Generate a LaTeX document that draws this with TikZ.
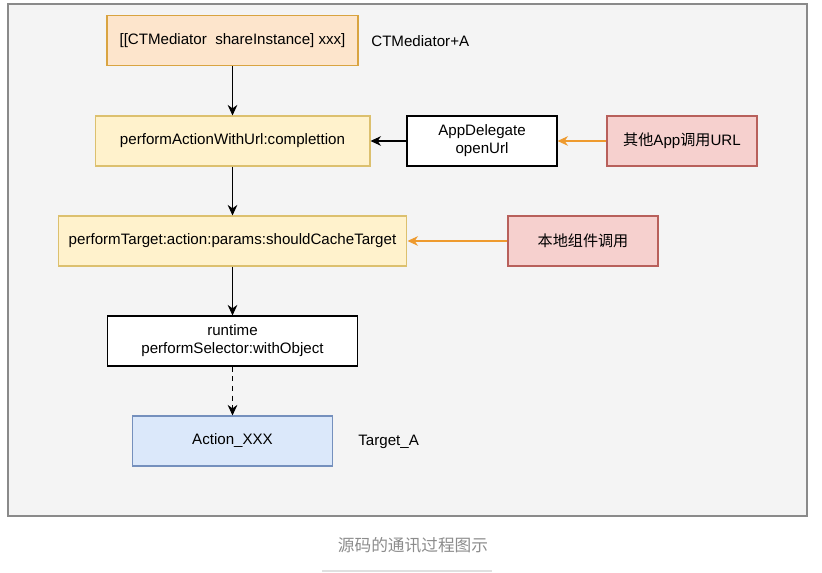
\documentclass[tikz,border=0pt]{standalone}
\usepackage{fontspec}
\setmainfont{Liberation Sans}
\newfontfamily\cjk{Noto Sans CJK SC}
\usetikzlibrary{arrows.meta}
\definecolor{framefill}{HTML}{F4F4F4}
\definecolor{framedraw}{HTML}{8A8A8A}
\definecolor{orfill}{HTML}{FDE5CC}
\definecolor{ordraw}{HTML}{D9A441}
\definecolor{yefill}{HTML}{FFF2CC}
\definecolor{yedraw}{HTML}{DCC06E}
\definecolor{refill}{HTML}{F6D0CE}
\definecolor{redraw}{HTML}{B8605B}
\definecolor{blfill}{HTML}{DBE8FA}
\definecolor{bldraw}{HTML}{7590BD}
\definecolor{callarrow}{HTML}{EE9A2E}
\tikzset{
  box/.style={draw,line width=0.6pt,minimum height=1cm,inner sep=0pt,align=center,
    font=\fontsize{8.6}{10.2}\selectfont},
  mediator/.style={box,fill=orfill,draw=ordraw},
  callstep/.style={box,fill=yefill,draw=yedraw},
  plainstep/.style={box,fill=white,draw=black},
  caller/.style={box,fill=refill,draw=redraw},
  target/.style={box,fill=blfill,draw=bldraw},
  tag/.style={anchor=west,inner sep=0pt,font=\fontsize{8.6}{10.2}\selectfont},
  flow/.style={-{Stealth[length=6pt,width=5.5pt]},line width=0.6pt},
  call/.style={flow,draw=callarrow}
}
\begin{document}
\begin{tikzpicture}[x=0.02cm,y=-0.02cm]
    \useasboundingbox (0,0) rectangle (822,573);
    \draw[framedraw,fill=framefill,line width=0.6pt] (8,4) rectangle (807,516);
    % mediator column
    \node[mediator,minimum width=5.02cm] (share) at (232.5,40.5) {[[CTMediator\ \ shareInstance] xxx]};
    \node[tag] (ctm) at (371,41) {CTMediator+A};
    \node[callstep,minimum width=5.5cm] (url) at (232.5,141) {performActionWithUrl:complettion};
    \node[plainstep,minimum width=3cm] (appdel) at (482,141) {AppDelegate\\openUrl};
    \node[caller,minimum width=3cm] (otherapp) at (682,141) {{\cjk 其他}App{\cjk 调用}URL};
    \node[callstep,minimum width=6.98cm] (perf) at (232.5,241) {performTarget:action:params:shouldCacheTarget};
    \node[caller,minimum width=3cm] (local) at (583,241) {\cjk 本地组件调用};
    \node[plainstep,minimum width=5cm] (rt) at (232.5,341) {runtime\\performSelector:withObject};
    \node[target,minimum width=4cm] (act) at (232.5,441) {Action\_XXX};
    \node[tag] (tgt) at (358,442) {Target\_A};
    % connectors
    \draw[flow] (share) -- (url);
    \draw[flow] (url) -- (perf);
    \draw[flow] (perf) -- (rt);
    \draw[flow,dash pattern=on 3pt off 2.5pt] (rt) -- (act);
    \draw[flow] (appdel) -- (url);
    \draw[call] (otherapp) -- (appdel);
    \draw[call] (local) -- (perf);
    % caption
    \node[text=black!45,font=\cjk\fontsize{9.5}{11}\selectfont] (cap) at (413,545) {源码的通讯过程图示};
    \draw[black!12,line width=0.6pt] (322,571) -- (492,571);
\end{tikzpicture}
\end{document}
